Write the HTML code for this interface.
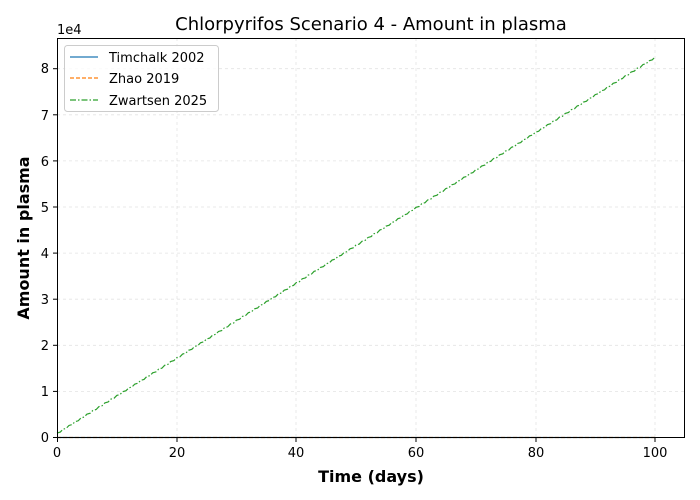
<!DOCTYPE html>
<html><head><meta charset="utf-8"><style>
body{margin:0;background:#fff;}
svg{display:block;font-family:"DejaVu Sans","Liberation Sans",sans-serif;}
</style></head><body>
<svg width="700" height="500" viewBox="0 0 700 500" xmlns="http://www.w3.org/2000/svg">
<rect width="700" height="500" fill="#fff"/>
<g stroke="#b0b0b0" stroke-opacity="0.35" stroke-width="0.8" stroke-dasharray="3,3">
<line x1="177" y1="38" x2="177" y2="438"/>
<line x1="296" y1="38" x2="296" y2="438"/>
<line x1="416" y1="38" x2="416" y2="438"/>
<line x1="536" y1="38" x2="536" y2="438"/>
<line x1="655" y1="38" x2="655" y2="438"/>
<line x1="57" y1="391.4" x2="685" y2="391.4"/>
<line x1="57" y1="345.3" x2="685" y2="345.3"/>
<line x1="57" y1="299.2" x2="685" y2="299.2"/>
<line x1="57" y1="253.1" x2="685" y2="253.1"/>
<line x1="57" y1="207" x2="685" y2="207"/>
<line x1="57" y1="160.9" x2="685" y2="160.9"/>
<line x1="57" y1="114.8" x2="685" y2="114.8"/>
<line x1="57" y1="68.7" x2="685" y2="68.7"/>
</g>
<line x1="57" y1="437.5" x2="655" y2="437.5" stroke="#1f77b4" stroke-width="1.2"/>
<line x1="57" y1="437.5" x2="655" y2="437.5" stroke="#ff7f0e" stroke-width="1.2" stroke-dasharray="4,2"/>
<path id="zw" d="M57,433 L655,57" fill="none" stroke="#2ca02c" stroke-width="1.2" stroke-dasharray="6,2,1.5,2"/>
<script>
(function(){var d="M57,433";var x0=57,dx=5.98,y0=433,dy=3.76;
for(var i=0;i<100;i++){var x=x0+i*dx,y=y0-i*dy;
d+=" L"+(x+dx*0.55).toFixed(2)+","+(y-dy*0.25).toFixed(2)+" L"+(x+dx).toFixed(2)+","+(y-dy).toFixed(2);}
document.getElementById("zw").setAttribute("d",d);})();
</script>
<rect x="57.5" y="38.5" width="627" height="399" fill="none" stroke="#000" stroke-width="1"/>
<g stroke="#000" stroke-width="1">
<line x1="57.5" y1="438" x2="57.5" y2="442"/>
<line x1="177" y1="438" x2="177" y2="442"/>
<line x1="296" y1="438" x2="296" y2="442"/>
<line x1="416" y1="438" x2="416" y2="442"/>
<line x1="536" y1="438" x2="536" y2="442"/>
<line x1="655" y1="438" x2="655" y2="442"/>
<line x1="53" y1="437.5" x2="57" y2="437.5"/>
<line x1="53" y1="391.4" x2="57" y2="391.4"/>
<line x1="53" y1="345.3" x2="57" y2="345.3"/>
<line x1="53" y1="299.2" x2="57" y2="299.2"/>
<line x1="53" y1="253.1" x2="57" y2="253.1"/>
<line x1="53" y1="207" x2="57" y2="207"/>
<line x1="53" y1="160.9" x2="57" y2="160.9"/>
<line x1="53" y1="114.8" x2="57" y2="114.8"/>
<line x1="53" y1="68.7" x2="57" y2="68.7"/>
</g>
<g font-size="13" fill="#000" text-anchor="middle">
<text x="57" y="457">0</text>
<text x="177" y="457">20</text>
<text x="296" y="457">40</text>
<text x="416" y="457">60</text>
<text x="536" y="457">80</text>
<text x="655" y="457">100</text>
</g>
<g font-size="13" fill="#000" text-anchor="end">
<text x="49" y="442">0</text>
<text x="49" y="396">1</text>
<text x="49" y="350">2</text>
<text x="49" y="304">3</text>
<text x="49" y="258">4</text>
<text x="49" y="212">5</text>
<text x="49" y="166">6</text>
<text x="49" y="120">7</text>
<text x="49" y="73">8</text>
</g>
<text x="57" y="34" font-size="13">1e4</text>
<text x="371" y="30" font-size="18" text-anchor="middle">Chlorpyrifos Scenario 4 - Amount in plasma</text>
<text x="371" y="482" font-size="16" font-weight="bold" text-anchor="middle">Time (days)</text>
<text transform="translate(29,238) rotate(-90)" font-size="16" font-weight="bold" text-anchor="middle">Amount in plasma</text>
<rect x="64.5" y="45.5" width="154" height="66" rx="3" fill="#fff" fill-opacity="0.8" stroke="#ccc"/>
<line x1="70" y1="57" x2="98" y2="57" stroke="#1f77b4" stroke-width="1.2"/>
<line x1="70" y1="78" x2="98" y2="78" stroke="#ff7f0e" stroke-width="1.2" stroke-dasharray="4,2"/>
<line x1="70" y1="100" x2="98" y2="100" stroke="#2ca02c" stroke-width="1.2" stroke-dasharray="6,2,1.5,2"/>
<g font-size="13" fill="#000">
<text x="109" y="62">Timchalk 2002</text>
<text x="109" y="83">Zhao 2019</text>
<text x="109" y="105">Zwartsen 2025</text>
</g>
</svg>
</body></html>
